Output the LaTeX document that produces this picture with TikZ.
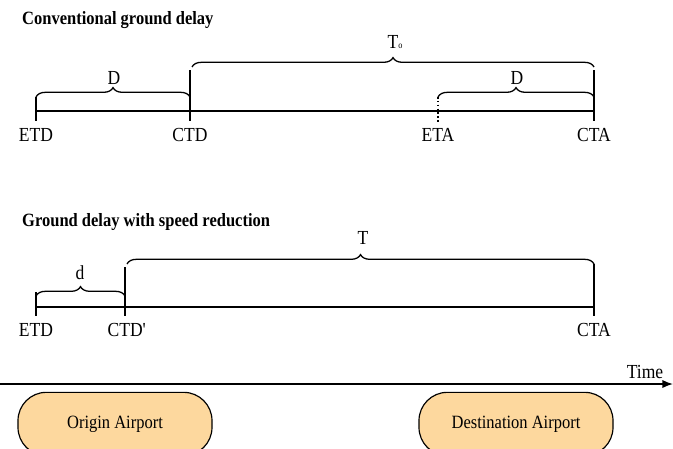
\documentclass[tikz,border=0pt]{standalone}
\usepackage{fontspec}
\setmainfont{Liberation Serif}
\newfontfamily\condfont[FakeStretch=0.88]{Liberation Serif}
\usetikzlibrary{decorations.pathreplacing,arrows.meta}
\definecolor{airport}{RGB}{253,216,158}
\tikzset{
  axis/.style={line width=1.3pt},
  brc/.style={line width=1.1pt, decorate, decoration={brace, amplitude=8pt}},
  lbl/.style={font=\condfont\fontsize{17}{20}\selectfont, inner sep=0pt},
  ttl/.style={font=\condfont\fontsize{16}{19}\selectfont\bfseries, anchor=west, inner sep=0pt},
  airportbox/.style={draw, line width=1pt, fill=airport, rounded corners=0.85cm,
    minimum width=5.82cm, minimum height=1.9cm, font=\condfont\fontsize{16}{19}\selectfont}
}

\begin{document}
\begin{tikzpicture}[x=0.03cm, y=-0.03cm]
\useasboundingbox (0,0) rectangle (673,449);
\node[ttl] (title1) at (22,20) {Conventional ground delay};
\node[ttl] (title2) at (22,222) {Ground delay with speed reduction};
% first timeline
\coordinate (etd1) at (36,111);
\coordinate (cta1) at (594,111);
\draw[axis] (etd1) -- (cta1);
\foreach \x/\top/\n in {36/97/ETD, 190/70/CTD, 594/70/CTA}{
  \draw[axis] (\x,\top) -- (\x,121);
  \node[lbl] (\n1) at (\x,135) {\n};
}
\draw[line width=1.3pt, dotted] (438,97) -- (438,122);
\node[lbl] (ETA1) at (438,135) {ETA};
\draw[brc] (36,97) -- (190,97);
\node[lbl] (D1) at (114,78) {D};
\draw[brc] (192,67) -- (594,67);
\node[lbl] (T0) at (395,42) {T\raisebox{-0.5pt}{\fontsize{8}{8}\selectfont o}};
\draw[brc] (438,97) -- (594,97);
\node[lbl] (D2) at (517,78) {D};
% second timeline
\coordinate (etd2) at (36,307);
\coordinate (cta2) at (594,307);
\draw[axis] (etd2) -- (cta2);
\foreach \x/\top in {36/292, 125/267, 594/264}{
  \draw[axis] (\x,\top) -- (\x,316);
}
\node[lbl] (ETD2) at (36,330) {ETD};
\node[lbl] (CTD2) at (127,330) {CTD\textquotesingle};
\node[lbl] (CTA2) at (594,330) {CTA};
\draw[brc] (36,296) -- (125,296);
\node[lbl] (d) at (80,273) {d};
\draw[brc] (127,264) -- (594,264);
\node[lbl] (T) at (363,238) {T};
% time axis
\coordinate (t0) at (0,384);
\coordinate (t1) at (673,384);
\draw[axis, -{Latex[length=9pt,width=7pt]}] (t0) -- (t1);
\node[lbl] (time) at (645,372) {Time};
\node[airportbox] (origin) at (115,424) {Origin Airport};
\node[airportbox] (dest) at (516,424) {Destination Airport};
\end{tikzpicture}
\end{document}
